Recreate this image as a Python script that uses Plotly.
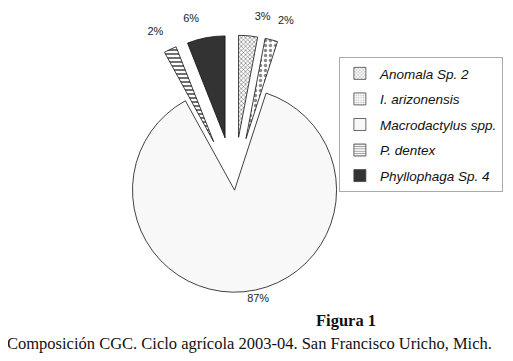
import plotly.graph_objects as go

labels = ["Anomala Sp. 2", "I. arizonensis", "Macrodactylus spp.", "P. dentex", "Phyllophaga Sp. 4"]
values = [3, 2, 87, 2, 6]
pulls = [0.47, 0.47, 0.05, 0.47, 0.47]

colors = ["#ffffff", "#ffffff", "#f8f8f8", "#ffffff", "#333333"]
shapes = ["x", ".", "", "-", ""]
fgcolors = ["#666666", "#888888", "#000000", "#333333", "#333333"]
pat_sizes = [3, 5, 8, 4, 8]

# percent labels: split over two pie layers so neighbouring labels are not scooted
lbl_top = "%{percent}<br>\u00a0"
lbl_a = [lbl_top, "", "%{percent}", "", lbl_top]
lbl_b = ["", lbl_top, "", lbl_top, ""]

pie_domain = dict(x=[0.1445, 0.7368], y=[0.094, 0.925])
label_font = dict(family="Arial, Liberation Sans", size=11, color="#222222")

fig = go.Figure()
fig.add_trace(go.Pie(
    labels=labels, values=values, sort=False, direction="clockwise", rotation=0,
    pull=pulls, textinfo="none", texttemplate=lbl_a, textposition="outside",
    outsidetextfont=label_font,
    marker=dict(colors=colors, line=dict(color="#111111", width=0.8),
                pattern=dict(shape=shapes, fgcolor=fgcolors, bgcolor=colors, size=pat_sizes, solidity=0.35)),
    showlegend=False, hoverinfo="label+percent", domain=pie_domain,
))
fig.add_trace(go.Pie(
    labels=labels, values=values, sort=False, direction="clockwise", rotation=0,
    pull=pulls, textinfo="none", texttemplate=lbl_b, textposition="outside",
    outsidetextfont=label_font,
    marker=dict(colors=["rgba(0,0,0,0)"] * len(labels), line=dict(width=0)),
    showlegend=False, hoverinfo="skip", domain=pie_domain,
))

for i, lab in enumerate(labels):
    fig.add_trace(go.Bar(
        x=[None], y=[None], name=lab, legendgroup=lab, showlegend=True,
        marker=dict(color=colors[i], line=dict(color="#444444", width=0.8),
                    pattern=dict(shape=shapes[i], fgcolor=fgcolors[i], bgcolor=colors[i], size=3, solidity=0.4)),
    ))

fig.update_layout(
    width=513, height=361, margin=dict(l=0, r=0, t=0, b=0, autoexpand=False),
    paper_bgcolor="white", plot_bgcolor="white",
    xaxis=dict(visible=False), yaxis=dict(visible=False),
    legend=dict(x=0.645, y=0.864, xanchor="left", yanchor="top",
                bordercolor="#aaaaaa", borderwidth=1, tracegroupgap=5,
                font=dict(family="Arial, Liberation Sans", size=13.5, color="#111111", style="italic")),
    annotations=[
        dict(text="<b>Figura 1</b>", x=0.659, y=0.133, xref="paper", yref="paper",
             xanchor="center", yanchor="middle", showarrow=False,
             font=dict(family="Liberation Serif, Times New Roman", size=16.5, color="#111111")),
        dict(text="Composición CGC. Ciclo agrícola 2003-04. San Francisco Uricho, Mich.",
             x=0.4717, y=0.072, xref="paper", yref="paper", xanchor="center", yanchor="middle",
             showarrow=False,
             font=dict(family="Liberation Serif, Times New Roman", size=16.5, color="#111111")),
    ],
)

fig.write_html("out.html")
